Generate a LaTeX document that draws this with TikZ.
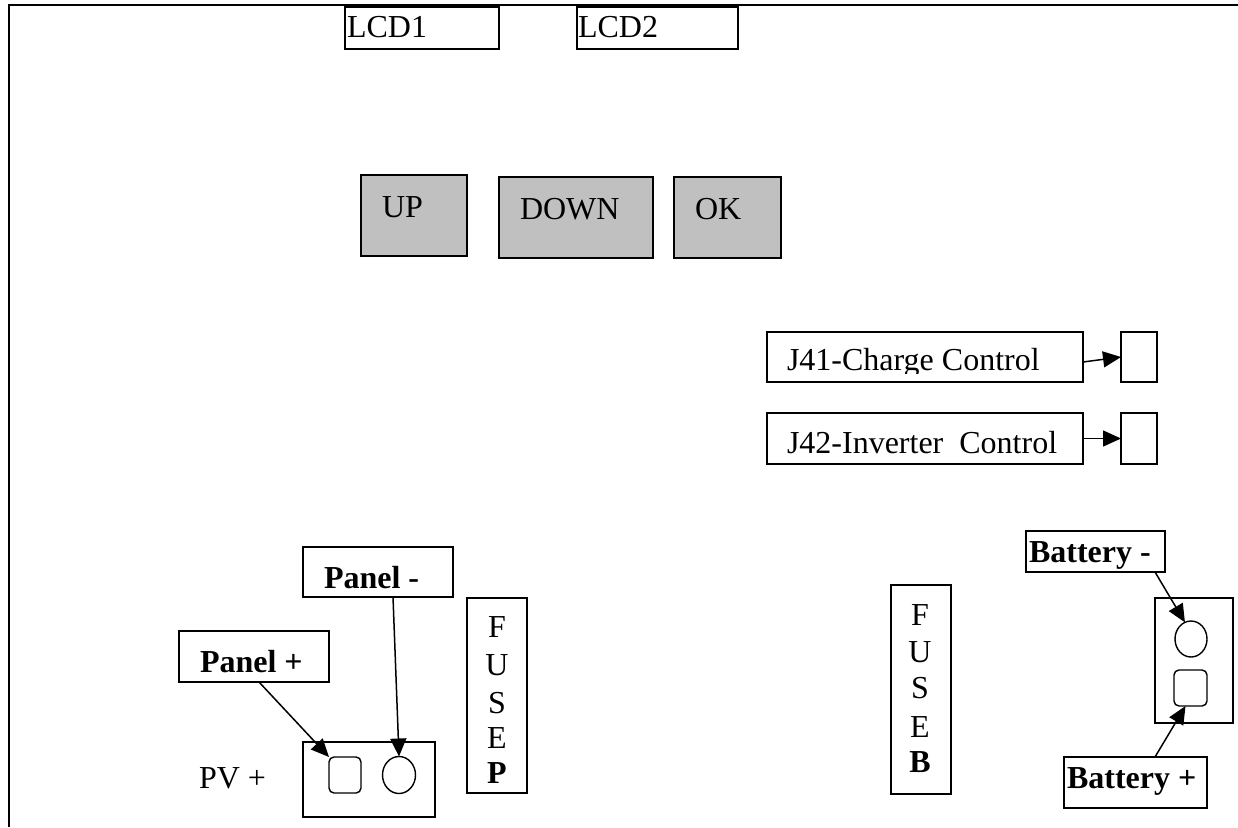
\documentclass[tikz,border=0pt]{standalone}
\usepackage{fontspec}
\setmainfont{Liberation Serif}
\usetikzlibrary{arrows.meta,shapes.geometric}
\definecolor{btngray}{RGB}{192,192,192}
\begin{document}
\begin{tikzpicture}[x=1pt,y=-1pt,
  box/.style={draw,line width=1.4pt,inner sep=0pt,outer sep=0pt,anchor=north west},
  btn/.style={box,fill=btngray},
  txt/.style={inner sep=0pt,outer sep=0pt,anchor=base west,font=\fontsize{32}{37}\selectfont},
  btxt/.style={txt,font=\fontsize{32}{37}\selectfont\bfseries},
  ltr/.style={txt,anchor=base},
  arr/.style={line width=1.5pt,-{Triangle[length=18pt,width=16pt]}},
  hole/.style={draw,line width=1.4pt,ellipse,inner sep=0pt,outer sep=0pt,minimum width=33pt,minimum height=37pt},
  sqhole/.style={draw,line width=1.4pt,rounded corners=5pt,inner sep=0pt,outer sep=0pt,minimum width=32pt,minimum height=36pt}]
\useasboundingbox (0,0) rectangle (1238,827);
% outer frame
\draw[line width=2pt] (9,827) -- (9,5) -- (1238,5);

% LCDs
\node[box,minimum width=154pt,minimum height=42pt] (lcd1) at (345,7) {};
\node[txt] (tlcd1) at (347,37) {LCD1};
\node[box,minimum width=161pt,minimum height=42pt] (lcd2) at (577,7) {};
\node[txt] (tlcd2) at (578,37) {LCD2};

% buttons
\node[btn,minimum width=106pt,minimum height=81pt] (up) at (361,175) {};
\node[txt] (tup) at (382,217) {UP};
\node[btn,minimum width=154pt,minimum height=81pt] (down) at (499,177) {};
\node[txt] (tdown) at (520,219) {DOWN};
\node[btn,minimum width=107pt,minimum height=81pt] (ok) at (674,177) {};
\node[txt] (tok) at (695,219) {OK};

% J41 / J42
\node[box,minimum width=316pt,minimum height=50pt] (j41) at (767,332) {};
\begin{scope}
\clip (767,332) rectangle (1083,373);
\node[txt] (tj41) at (787,370) {J41-Charge Control};
\end{scope}
\node[box,minimum width=36pt,minimum height=50pt] (s1) at (1121,332) {};
\draw[arr] ([yshift=-5pt]j41.east) -- (s1.west);

\node[box,minimum width=316pt,minimum height=51pt] (j42) at (767,413) {};
\node[txt] (tj42) at (787,453) {J42-Inverter\ \ Control};
\node[box,minimum width=36pt,minimum height=51pt] (s2) at (1121,413) {};
\draw[arr] (j42.east) -- (s2.west);

% Panel side
\node[box,minimum width=150pt,minimum height=50pt] (pminus) at (303,547) {};
\node[btxt] (tpminus) at (324,588) {Panel -};
\node[box,minimum width=150pt,minimum height=51pt] (pplus) at (179,631) {};
\node[btxt] (tpplus) at (200,672) {Panel +};
\node[box,minimum width=132pt,minimum height=75pt] (pv) at (303,742) {};
\node[txt] (tpv) at (199,788) {PV +};
\node[sqhole] (sq1) at (345,775) {};
\node[hole] (c1) at (399,775) {};
\draw[arr] ([xshift=5pt]pplus.south) -- (sq1.north west);
\draw[arr] ([xshift=15pt]pminus.south) -- (c1.north);

% Fuse P
\node[box,minimum width=60pt,minimum height=195pt] (fusep) at (467,598) {};
\node[ltr] (fp1) at (497,637) {F};
\node[ltr] (fp2) at (497,675) {U};
\node[ltr] (fp3) at (497,713) {S};
\node[ltr] (fp4) at (497,748) {E};
\node[ltr,font=\fontsize{32}{37}\selectfont\bfseries] (fp5) at (497,783) {P};

% Fuse B
\node[box,minimum width=60pt,minimum height=209pt] (fuseb) at (891,585) {};
\node[ltr] (fb1) at (920,625) {F};
\node[ltr] (fb2) at (920,662) {U};
\node[ltr] (fb3) at (920,698) {S};
\node[ltr] (fb4) at (920,737) {E};
\node[ltr,font=\fontsize{32}{37}\selectfont\bfseries] (fb5) at (920,772) {B};

% Battery side
\node[box,minimum width=139pt,minimum height=41pt] (bminus) at (1026,531) {};
\node[btxt] (tbminus) at (1029,562) {Battery -};
\node[box,minimum width=78pt,minimum height=125pt] (bat) at (1155,598) {};
\node[hole,minimum width=32pt,minimum height=36pt] (c2) at (1191,639) {};
\node[sqhole,minimum width=33pt] (sq2) at (1190.5,688) {};
\node[box,minimum width=143pt,minimum height=51pt] (bplus) at (1064,757) {};
\node[btxt] (tbplus) at (1067,788) {Battery +};
\draw[arr] ([xshift=-10pt]bminus.south east) -- (c2.110);
\draw[arr] ([xshift=91pt]bplus.north west) -- ([xshift=-5pt]sq2.south);
\end{tikzpicture}
\end{document}
